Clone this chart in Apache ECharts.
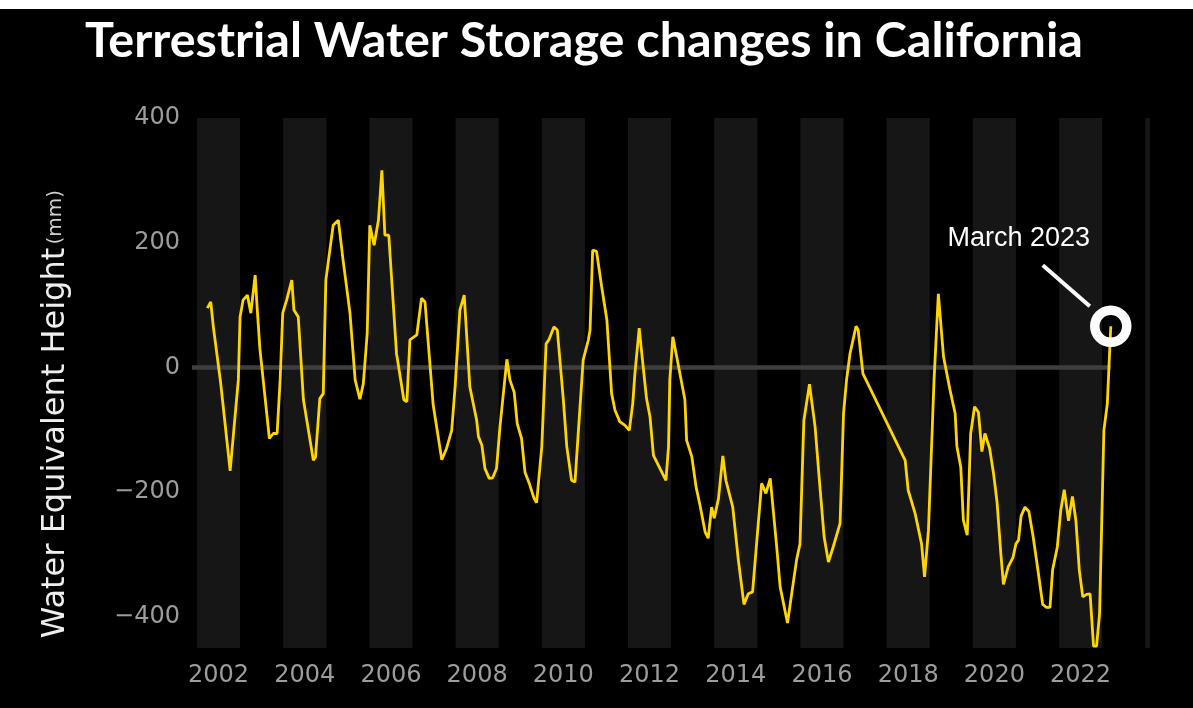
<!DOCTYPE html>
<html>
<head>
<meta charset="utf-8">
<style>
  html, body { margin: 0; padding: 0; background: #000; }
  #main { width: 1193px; height: 708px; }
</style>
<script src="https://cdn.jsdelivr.net/npm/echarts@6/dist/echarts.min.js"></script>
</head>
<body>
<div id="main"></div>
<script>
// decimal years of each reading
var dates = [
  2002.24, 2002.32, 2002.38, 2002.55, 2002.77, 2002.96, 2003.00, 2003.07, 2003.17, 2003.25,
  2003.35, 2003.40, 2003.46, 2003.68, 2003.77, 2003.86, 2003.93, 2003.99, 2004.08, 2004.20,
  2004.25, 2004.35, 2004.47, 2004.70, 2004.75, 2004.85, 2004.93, 2004.99, 2005.16, 2005.28,
  2005.39, 2005.55, 2005.67, 2005.78, 2005.86, 2005.95, 2006.01, 2006.11, 2006.21, 2006.29,
  2006.36, 2006.45, 2006.63, 2006.80, 2006.87, 2006.94, 2007.10, 2007.21, 2007.29, 2007.41,
  2007.48, 2007.68, 2007.79, 2007.91, 2007.99, 2008.10, 2008.20, 2008.33, 2008.49, 2008.53,
  2008.61, 2008.68, 2008.78, 2008.86, 2008.95, 2009.03, 2009.19, 2009.26, 2009.36, 2009.43,
  2009.53, 2009.61, 2009.71, 2009.82, 2009.88, 2010.00, 2010.10, 2010.17, 2010.28, 2010.36,
  2010.50, 2010.58, 2010.69, 2010.77, 2010.85, 2010.96, 2011.08, 2011.12, 2011.18, 2011.27,
  2011.39, 2011.51, 2011.62, 2011.70, 2011.81, 2011.93, 2012.03, 2012.11, 2012.16, 2012.26,
  2012.32, 2012.43, 2012.51, 2012.59, 2012.74, 2012.88, 2012.94, 2012.97, 2013.04, 2013.13,
  2013.32, 2013.36, 2013.48, 2013.58, 2013.67, 2013.79, 2013.86, 2013.94, 2014.00, 2014.10,
  2014.20, 2014.27, 2014.43, 2014.56, 2014.69, 2014.79, 2014.89, 2014.99, 2015.10, 2015.20,
  2015.30, 2015.45, 2015.53, 2015.70, 2015.91, 2015.99, 2016.08, 2016.21, 2016.34, 2016.44,
  2016.55, 2016.65, 2016.76, 2016.92, 2017.00, 2017.07, 2017.15, 2017.29, 2017.34, 2017.45,
  2018.43, 2018.50, 2018.66, 2018.81, 2018.88, 2018.97, 2019.10, 2019.20, 2019.32, 2019.47,
  2019.59, 2019.63, 2019.72, 2019.78, 2019.87, 2019.95, 2020.04, 2020.13, 2020.21, 2020.28,
  2020.39, 2020.48, 2020.56, 2020.65, 2020.71, 2020.82, 2020.93, 2021.00, 2021.06, 2021.12,
  2021.21, 2021.30, 2021.40, 2021.50, 2021.62, 2021.71, 2021.79, 2021.85, 2021.96, 2022.04,
  2022.12, 2022.22, 2022.31, 2022.39, 2022.47, 2022.55, 2022.64, 2022.72, 2022.80, 2022.87,
  2022.94, 2023.04, 2023.12, 2023.20
];

// water equivalent height, mm
var storage = [
  95, 105, 65, -25, -166, -20, 81, 108, 116, 87,
  148, 92, 30, -114, -106, -106, -20, 87, 108, 140,
  92, 81, -52, -149, -144, -50, -42, 140, 228, 236,
  172, 87, -20, -51, -26, 55, 228, 196, 236, 316,
  212, 212, 22, -52, -55, 44, 52, 111, 105, 1,
  -60, -148, -130, -101, -30, 92, 116, -31, -85, -111,
  -125, -162, -178, -177, -162, -95, 13, -20, -40, -90,
  -114, -168, -186, -210, -217, -127, 38, 45, 65, 60,
  -52, -127, -181, -184, -101, 12, 44, 60, 188, 186,
  129, 76, -42, -69, -87, -93, -101, -58, -10, 63,
  22, -50, -79, -141, -162, -181, -127, -20, 49, 17,
  -52, -117, -143, -192, -221, -264, -274, -224, -242, -210,
  -142, -181, -224, -309, -380, -363, -360, -277, -186, -202,
  -178, -288, -352, -410, -309, -283, -85, -27, -95, -181,
  -272, -312, -288, -250, -74, -20, 22, 66, 60, -10,
  -149, -197, -234, -283, -336, -261, -20, 118, 17, -36,
  -74, -127, -160, -245, -269, -106, -63, -72, -135, -106,
  -130, -170, -215, -299, -348, -320, -305, -283, -277, -238,
  -224, -231, -272, -320, -380, -385, -385, -325, -288, -229,
  -196, -246, -207, -245, -325, -368, -364, -363, -447, -447,
  -395, -101, -58, 66
];

var bandYears = [2002, 2004, 2006, 2008, 2010, 2012, 2014, 2016, 2018, 2020, 2022, 2024];
var yearLabels = [2002, 2004, 2006, 2008, 2010, 2012, 2014, 2016, 2018, 2020, 2022];
var yTicks = [400, 200, 0, -200, -400];

var titleText = 'Terrestrial Water Storage changes in California';
var noteText = 'March 2023';

var xMin = 2001.885, xMax = 2024.11;
var yMin = -450, yMax = 400;

// fit the title to the width it has in the picture
var ctx = document.createElement('canvas').getContext('2d');
ctx.font = 'bold 48px Lato';
var titleSize = 48 * 998 / ctx.measureText(titleText).width;

var chartDom = document.getElementById('main');
var myChart = echarts.init(chartDom);
var option;

var last = dates.length - 1;

option = {
  backgroundColor: '#000',
  animation: false,
  title: {
    text: titleText,
    left: 80,
    top: 12,
    textStyle: {
      color: '#fff',
      fontFamily: 'Lato',
      fontWeight: 'bold',
      fontSize: titleSize
    }
  },
  grid: { left: 192, right: 43, top: 118, bottom: 60 },
  xAxis: {
    type: 'value',
    min: xMin,
    max: xMax,
    axisLine: { show: false },
    axisTick: { show: false },
    splitLine: { show: false },
    axisLabel: {
      customValues: yearLabels.map(function (y) { return y + 0.5; }),
      formatter: function (v) { return String(Math.floor(v)); },
      color: '#9c9c9c',
      fontFamily: 'DejaVu Sans',
      fontSize: 24,
      margin: 16
    }
  },
  yAxis: {
    type: 'value',
    min: yMin,
    max: yMax,
    axisLine: { show: false },
    axisTick: { show: false },
    splitLine: { show: false },
    axisLabel: {
      customValues: yTicks,
      formatter: function (v) { return v < 0 ? '\u2212' + Math.abs(v) : String(v); },
      color: '#9c9c9c',
      fontFamily: 'DejaVu Sans',
      fontSize: 24,
      margin: 12
    },
    name: '{a|Water Equivalent Height} {b|(mm)}',
    nameLocation: 'middle',
    nameRotate: 90,
    nameGap: 120,
    nameTextStyle: {
      padding: [0, 62, 0, 0],
      rich: {
        a: { fontSize: 32, color: '#eeeeee', fontFamily: 'DejaVu Sans' },
        b: { fontSize: 20, color: '#d0d0d0', fontFamily: 'DejaVu Sans' }
      }
    }
  },
  series: [
    {
      name: 'bands',
      type: 'line',
      z: 1,
      silent: true,
      showSymbol: false,
      lineStyle: { opacity: 0 },
      data: [[xMin, 0]],
      markArea: {
        silent: true,
        itemStyle: { color: '#161616' },
        data: bandYears.map(function (y) {
          return [{ xAxis: y }, { xAxis: Math.min(y + 1, xMax) }];
        })
      }
    },
    {
      name: 'zero',
      type: 'line',
      z: 2,
      silent: true,
      showSymbol: false,
      lineStyle: { color: '#3e3e3e', width: 4.5 },
      data: [[xMin, 0], [dates[last], 0]]
    },
    {
      name: 'TWS',
      type: 'line',
      z: 3,
      showSymbol: false,
      lineStyle: { color: '#FFD500', width: 2.8 },
      data: dates.map(function (d, i) { return [d, storage[i]]; })
    },
    {
      name: 'latest',
      type: 'scatter',
      z: 4,
      silent: true,
      symbol: 'circle',
      symbolSize: 32,
      itemStyle: { color: 'rgba(0,0,0,0)', borderColor: '#fff', borderWidth: 9.5, opacity: 1 },
      label: {
        show: true,
        position: 'inside',
        offset: [-92, -88],
        formatter: noteText,
        color: '#fff',
        fontFamily: 'Liberation Sans',
        fontSize: 27
      },
      data: [[dates[last], storage[last]]]
    }
  ]
};

option && myChart.setOption(option);

// leader line from the note to the ring, and the light strip on top of the picture
var p = myChart.convertToPixel({ gridIndex: 0 }, [dates[last], storage[last]]);
myChart.setOption({
  graphic: [
    {
      type: 'rect',
      shape: { x: 0, y: 0, width: 1193, height: 9 },
      style: { fill: '#fff' },
      z: 10
    },
    {
      type: 'line',
      shape: { x1: p[0] - 68, y1: p[1] - 61, x2: p[0] - 21, y2: p[1] - 20 },
      style: { stroke: '#fff', lineWidth: 4 },
      z: 10
    }
  ]
});
</script>
</body>
</html>
